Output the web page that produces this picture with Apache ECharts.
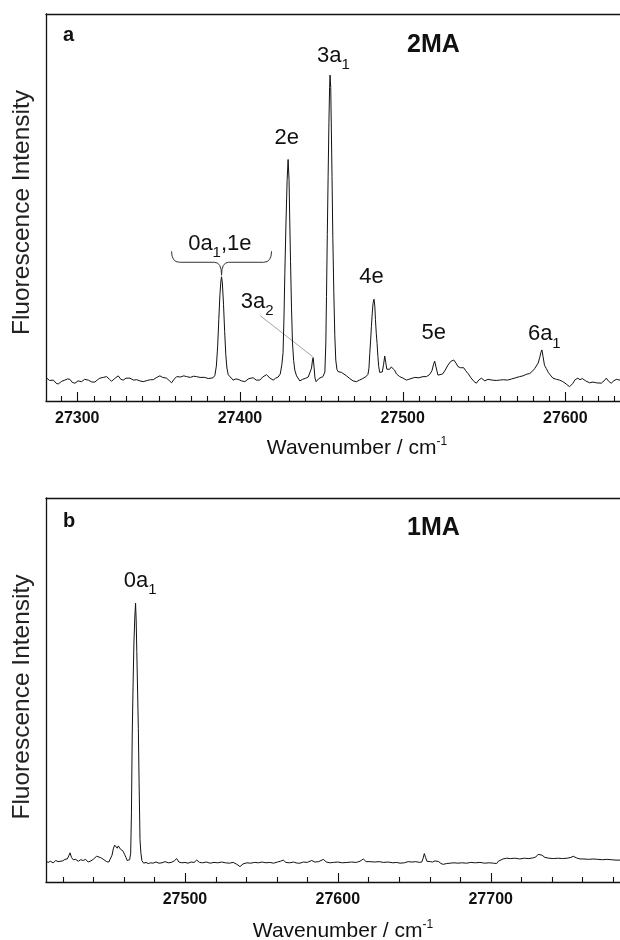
<!DOCTYPE html>
<html>
<head>
<meta charset="utf-8">
<script src="https://cdn.jsdelivr.net/npm/echarts@6/dist/echarts.min.js"></script>
<style>html,body{margin:0;padding:0;background:#fff}#c{width:620px;height:940px}</style>
</head>
<body>
<div id="c"></div>
<script>
// ---------- DATA ----------
// Panel a (2MA): [wavenumber cm-1, fluorescence intensity (arb.)]
const spectrumA = [
[27280.8,6.1],[27281.2,5.9],[27283.0,5.3],[27285.3,5.4],[27287.0,4.6],[27288.3,4.4],[27290.5,5.1],[27292.4,5.4],[27294.0,5.7],[27295.5,5.6],[27297.0,4.8],[27298.6,4.6],[27300.5,5.2],[27302.7,5.0],[27304.5,5.6],[27306.8,5.4],[27309.0,4.9],[27310.9,4.9],[27312.5,5.5],[27313.9,5.9],[27316.0,6.1],[27318.1,6.3],[27319.8,5.6],[27321.1,5.1],[27323.0,5.8],[27325.2,6.5],[27326.8,5.6],[27328.3,5.4],[27330.0,5.9],[27332.4,5.9],[27334.5,5.4],[27336.5,5.5],[27338.5,5.2],[27340.5,5.0],[27343.0,5.3],[27345.0,5.5],[27346.7,5.5],[27348.5,6.0],[27350.8,6.5],[27352.5,6.1],[27354.9,5.9],[27356.5,5.3],[27358.0,4.7],[27359.5,5.6],[27361.1,6.3],[27363.5,6.2],[27365.5,6.5],[27367.2,6.3],[27369.5,6.1],[27371.5,6.4],[27373.3,6.3],[27375.5,6.1],[27378.4,6.1],[27380.5,5.8],[27382.2,5.9],
[27383.5,6.0],[27384.6,6.6],[27385.5,9.0],[27386.3,14.0],[27387.0,21.0],[27387.7,27.5],[27388.3,31.0],[27388.7,32.1],[27389.2,30.5],[27389.9,25.0],[27390.6,18.0],[27391.3,12.0],[27392.0,8.5],[27392.8,6.8],[27393.8,6.8],[27395.8,5.4],[27397.5,5.7],[27398.9,5.6],[27401.0,5.2],[27403.0,5.0],[27405.5,5.8],[27408.1,6.0],[27410.0,5.4],[27412.2,5.4],[27414.0,6.2],[27416.3,6.8],[27418.5,5.9],[27420.4,5.4],[27422.0,5.9],[27423.5,6.2],
[27424.8,7.0],[27425.8,9.5],[27426.5,12.5],[27427.1,22],[27427.6,33],[27428.3,46],[27429.0,57],[27429.6,62.4],[27430.2,57],[27430.6,47],[27431.1,36],[27431.7,24],[27432.3,15],[27433.0,10.5],[27433.7,8.0],[27434.8,6.5],[27435.7,6.0],[27436.8,5.2],
[27438.5,5.6],[27440.5,5.9],[27442.0,6.2],[27443.2,6.6],[27444.0,8.5],[27444.6,10.6],[27445.0,11.2],[27445.5,9.0],[27446.1,6.0],[27446.8,5.0],[27447.5,5.3],[27448.5,5.8],
[27449.5,5.8],[27451.0,6.3],[27452.2,7.5],[27452.8,15],[27453.2,27],[27453.7,43],[27454.2,58],[27454.7,72],[27455.1,81],[27455.4,84.2],[27455.8,81],[27456.2,70],[27456.6,58],[27457.1,42],[27457.7,28],[27458.3,17],[27458.9,10.6],[27459.6,8.2],[27460.3,7.6],[27461.5,7.4],[27462.4,7.4],[27463.4,7.1],[27465.5,6.5],[27467.5,5.8],[27469.5,5.2],[27471.6,5.0],[27473.5,5.4],[27475.5,5.8],[27477.5,6.3],
[27478.7,6.9],[27479.3,8.5],[27479.8,12.3],[27480.3,15.5],[27480.8,19.2],[27481.3,22.5],[27481.8,25.2],[27482.4,26.3],[27482.9,24.5],[27483.3,21],[27483.8,17.5],[27484.3,14.9],[27484.8,11.5],[27485.3,8.9],[27485.9,7.4],[27486.6,7.0],[27487.5,7.5],[27488.3,9.5],[27489.0,11.6],[27489.6,10],[27490.3,8.2],[27491.0,8.0],[27492.0,8.2],[27493.0,8.8],[27494.1,9.0],[27495.0,8.0],[27496.2,7.0],[27498.2,6.3],[27500.3,5.9],[27502.3,5.4],[27504.5,5.7],[27507.4,6.1],[27510.0,6.0],[27512.5,6.3],[27514.6,6.3],[27516.5,6.8],[27518.0,7.8],[27519.0,9.5],[27519.7,10.3],[27520.5,8.8],[27521.7,6.7],[27523.0,6.8],[27524.6,7.0],[27526.2,8.0],[27527.9,9.3],[27529.5,10.2],[27531.4,10.6],[27532.8,9.8],[27534.0,8.9],[27535.5,8.6],[27536.5,9.0],[27537.5,8.6],[27538.8,7.8],[27540.2,7.1],[27542.0,6.0],[27543.5,5.2],[27545.3,4.6],[27546.8,5.4],[27548.4,5.9],[27550.5,5.2],[27552.5,5.6],[27555.0,5.4],[27557.5,5.3],[27559.6,5.4],[27562.0,5.5],[27564.5,5.4],[27567.0,5.7],[27569.5,6.0],[27571.9,6.3],[27574.0,6.5],[27576.0,6.9],[27578.1,7.1],[27580.0,7.8],[27581.2,8.4],[27582.2,8.9],[27583.3,9.8],[27584.3,11.3],[27585.0,12.6],[27585.6,13.2],[27586.3,11.5],[27587.2,9.2],[27588.3,8.4],[27589.5,7.4],[27590.8,6.7],[27592.4,5.9],[27594.5,5.6],[27596.5,5.4],[27598.5,5.0],[27600.5,4.4],[27602.6,3.7],[27604.5,4.5],[27606.0,5.5],[27607.7,5.9],[27609.0,5.5],[27610.5,5.8],[27612.5,5.2],[27614.9,4.7],[27617.0,4.9],[27619.0,4.7],[27622.1,4.6],[27623.8,5.2],[27625.2,5.9],[27626.6,5.1],[27628.2,4.6],[27629.8,5.2],[27631.3,5.6],[27633.6,5.4]
];
// Panel b (1MA)
const spectrumB = [
[27409.1,5.4],[27410.5,5.1],[27412.0,5.4],[27413.8,5.0],[27415.5,5.6],[27417.0,5.3],[27418.2,5.6],[27420.0,5.5],[27421.5,5.9],[27423.0,6.0],[27424.0,6.8],[27424.8,7.6],[27425.8,6.4],[27426.9,5.8],[27428.5,5.9],[27430.2,5.4],[27431.8,5.8],[27433.5,5.6],[27435.0,5.9],[27436.7,5.2],[27438.5,5.5],[27440.0,5.9],[27441.2,6.3],[27442.2,6.7],[27443.8,6.5],[27445.5,6.2],[27447.0,5.8],[27448.8,5.3],[27450.2,5.2],[27451.4,5.5],[27452.3,7.0],[27453.1,8.6],[27454.0,9.6],[27454.8,9.2],[27455.7,8.8],[27456.4,9.4],[27457.0,9.5],[27457.7,8.6],[27458.3,8.3],[27459.0,8.5],[27459.6,8.0],[27460.5,7.2],[27461.4,6.4],[27462.2,5.6],[27462.9,5.3],[27463.8,5.8],
[27464.5,7.5],[27465.0,18],[27465.5,38],[27466.1,52],[27466.6,62],[27467.2,69],[27467.7,72.6],[27468.1,68],[27468.5,60],[27469.0,50],[27469.5,40],[27470.0,26],[27470.6,11],[27471.2,7.5],[27471.8,5.6],[27473.0,4.9],
[27474.5,5.1],[27476.0,4.8],[27477.5,5.0],[27479.0,4.9],[27481.0,5.2],[27483.0,4.9],[27485.0,5.0],[27487.0,5.3],[27489.0,5.0],[27491.0,5.1],[27493.0,5.5],[27494.6,6.1],[27496.0,5.2],[27498.0,5.0],[27500.0,5.1],[27502.0,4.9],[27504.0,5.2],[27506.0,5.1],[27507.7,5.7],[27509.5,5.1],[27511.5,5.0],[27514.0,5.2],[27516.5,4.9],[27519.0,5.1],[27521.5,5.0],[27524.0,5.2],[27526.5,5.0],[27529.0,4.9],[27531.5,5.1],[27534.0,4.6],[27536.0,4.0],[27538.0,4.7],[27540.5,5.0],[27543.0,4.9],[27545.5,5.1],[27548.0,5.0],[27550.5,5.2],[27553.0,5.0],[27555.5,5.1],[27558.0,4.9],[27560.5,5.2],[27562.5,5.4],[27564.3,5.7],[27566.0,5.1],[27568.5,5.0],[27571.0,5.2],[27573.5,4.9],[27575.2,4.9],[27577.5,5.2],[27580.0,5.1],[27582.9,5.6],[27585.0,5.2],[27587.5,5.3],[27590.5,5.9],[27592.5,5.2],[27595.0,5.0],[27597.0,5.1],[27600.0,5.2],[27603.0,5.0],[27606.0,5.1],[27609.0,5.2],[27612.0,5.1],[27614.5,5.4],[27616.7,6.0],[27618.5,5.3],[27621.0,5.3],[27624.0,5.2],[27627.0,5.3],[27630.0,5.1],[27633.0,5.2],[27636.0,5.0],[27638.5,5.1],[27640.7,4.9],[27643.5,5.0],[27646.0,5.3],[27648.5,5.2],[27651.0,5.3],[27653.5,5.1],[27654.9,5.2],[27655.8,6.2],[27656.6,7.4],[27657.4,6.4],[27658.3,5.4],[27659.2,5.6],[27660.5,5.3],[27662.0,5.2],[27663.5,5.5],[27664.7,5.8],[27666.0,5.3],[27667.5,4.8],[27669.0,4.6],[27671.0,4.8],[27673.5,4.9],[27676.0,5.0],[27678.5,4.9],[27681.0,5.0],[27684.3,4.9],[27687.0,5.1],[27690.0,5.0],[27693.0,5.1],[27696.0,4.9],[27699.0,5.0],[27702.0,4.9],[27703.9,4.8],[27705.0,5.4],[27706.1,5.9],[27708.0,6.0],[27710.5,6.2],[27713.0,6.1],[27716.0,6.2],[27719.0,6.0],[27722.0,6.2],[27725.0,6.1],[27727.9,6.3],[27729.5,6.5],[27731.0,7.2],[27732.3,7.6],[27733.5,7.0],[27735.5,6.4],[27738.0,6.2],[27741.0,6.1],[27744.0,6.2],[27747.0,6.1],[27750.0,6.2],[27752.5,6.4],[27754.0,6.7],[27756.0,6.3],[27758.4,6.0],[27761.0,6.0],[27764.0,5.9],[27767.0,6.0],[27770.0,5.9],[27773.0,5.8],[27776.0,5.9],[27779.0,5.8],[27782.0,5.7],[27784.6,5.7]
];
// Peak assignments (underscore = subscript)
const peakLabelsA = ['0a_1,1e', '2e', '3a_1', '4e', '5e', '6a_1', '3a_2'];
const peakWnA     = [27388.7, 27429.6, 27455.4, 27482.4, 27519.7, 27585.6, 27445.0];
const peakHtA     = [32.1, 62.4, 84.2, 26.3, 10.3, 13.2, 11.2];
const peakLabelsB = ['0a_1'];
const peakWnB     = [27467.7];
const peakHtB     = [72.6];
// Axis ranges and ticks
const xRangeA = [27280.8, 27633.6];
const xRangeB = [27409.1, 27784.6];
const majorTicksA = [27300, 27400, 27500, 27600];
const minorTicksA = [27290,27310,27320,27330,27340,27350,27360,27370,27380,27390,27410,27420,27430,27440,27450,27460,27470,27480,27490,27510,27520,27530,27540,27550,27560,27570,27580,27590,27610,27620,27630];
const majorTicksB = [27500, 27600, 27700];
const minorTicksB = [27420,27440,27460,27480,27520,27540,27560,27580,27620,27640,27660,27680,27720,27740,27760,27780];
const panelTitles = ['2MA', '1MA'];
const panelLetters = ['a', 'b'];
const xTitle = 'Wavenumber / cm';
const xTitleSup = '-1';
const yTitle = 'Fluorescence Intensity';

// ---------- STYLE / LAYOUT ----------
const FONT = '"Liberation Sans", Arial, Helvetica, sans-serif';
const INK = '#111';
const grids = [
  {left: 46, top: 14, width: 574, height: 387, containLabel: false, outerBoundsMode: 'none'},
  {left: 46, top: 498, width: 574, height: 384, containLabel: false, outerBoundsMode: 'none'}
];
const labelOffsetsA = [[-1.7,-31],[-1.3,-20],[3.3,-17.5],[-2.5,-20],[-1,-26],[2.4,-13.5],[-56,-54]];
const labelOffsetsB = [[4.6,-20.5]];

function toRich(s) {
  return s.split(/_(\d)/).map((p, i) => i % 2 ? '{s|' + p + '}' : (p ? '{t|' + p + '}' : '')).join('');
}
const richStyles = {
  t: {fontSize: 22, lineHeight: 26, verticalAlign: 'top', color: INK, fontFamily: FONT},
  s: {fontSize: 15, lineHeight: 15, padding: [13, 0, 0, 0], verticalAlign: 'top', color: INK, fontFamily: FONT}
};

function xAxesFor(gi, range, major, nameGap, namePad) {
  return [
    { gridIndex: gi, type: 'value', position: 'bottom', min: range[0], max: range[1],
      axisLine: {show: true, onZero: false, lineStyle: {color: INK, width: 1.3}},
      axisTick: {show: false},
      axisLabel: {show: true, customValues: major, margin: 10, color: INK, fontSize: 16, fontWeight: 'bold', fontFamily: FONT,
        formatter: v => String(Math.round(v))},
      splitLine: {show: false},
      name: xTitle + '{sup|' + xTitleSup + '}', nameLocation: 'middle', nameGap: nameGap,
      nameTextStyle: {color: INK, fontSize: 21, fontFamily: FONT, lineHeight: 24, padding: [0, 0, 0, namePad],
        rich: {sup: {fontSize: 12, lineHeight: 12, verticalAlign: 'top', color: INK, fontFamily: FONT}}}
    },
    { gridIndex: gi, type: 'value', position: 'top', min: range[0], max: range[1],
      axisLine: {show: true, onZero: false, lineStyle: {color: INK, width: 1.3}},
      axisTick: {show: false}, axisLabel: {show: false}, splitLine: {show: false}
    }
  ];
}
function yAxisFor(gi, pad) {
  return { gridIndex: gi, type: 'value', min: 0, max: 100, position: 'left',
    axisLine: {show: true, onZero: false, lineStyle: {color: INK, width: 1.3}},
    axisTick: {show: false}, axisLabel: {show: false}, splitLine: {show: false},
    name: yTitle, nameLocation: 'middle', nameGap: 11, nameRotate: 90,
    nameTextStyle: {color: '#222', fontSize: 24.5, fontFamily: FONT, padding: [0, pad, 0, 0]}
  };
}
function peakMarks(labels, wn, ht, offsets) {
  return {
    symbol: 'circle', symbolSize: 0, silent: true, animation: false,
    label: {show: true, position: 'inside', color: INK, rich: richStyles},
    data: labels.map((l, i) => ({
      name: l, coord: [wn[i], ht[i]],
      label: {offset: offsets[i], formatter: toRich(l)}
    }))
  };
}

const option = {
  animation: false,
  backgroundColor: '#fff',
  grid: grids,
  xAxis: [].concat(xAxesFor(0, xRangeA, majorTicksA, 35, 48), xAxesFor(1, xRangeB, majorTicksB, 37, 20)),
  yAxis: [yAxisFor(0, 10), yAxisFor(1, 14)],
  series: [
    { type: 'line', xAxisIndex: 0, yAxisIndex: 0, data: spectrumA, showSymbol: false, symbol: 'none',
      lineStyle: {color: INK, width: 1}, itemStyle: {color: INK}, silent: true,
      markPoint: peakMarks(peakLabelsA, peakWnA, peakHtA, labelOffsetsA) },
    { type: 'line', xAxisIndex: 2, yAxisIndex: 1, data: spectrumB, showSymbol: false, symbol: 'none',
      lineStyle: {color: INK, width: 1}, itemStyle: {color: INK}, silent: true,
      markPoint: peakMarks(peakLabelsB, peakWnB, peakHtB, labelOffsetsB) }
  ]
};

const chart = echarts.init(document.getElementById('c'), null, {renderer: 'canvas', width: 620, height: 940});
chart.setOption(option);

// inward ticks placed through the axis scales
const tickStyle = {stroke: INK, lineWidth: 1.1};
function tickLines(xAxisIndex, yAxisIndex, values, len) {
  const yb = chart.convertToPixel({yAxisIndex: yAxisIndex}, 0);
  return values.map(v => {
    const x = Math.round(chart.convertToPixel({xAxisIndex: xAxisIndex}, v)) + 0.5;
    return {type: 'line', silent: true, shape: {x1: x, y1: yb, x2: x, y2: yb - len}, style: tickStyle};
  });
}
const ticks = [].concat(
  tickLines(0, 0, majorTicksA, 9), tickLines(0, 0, minorTicksA, 5),
  tickLines(2, 1, majorTicksB, 9), tickLines(2, 1, minorTicksB, 5)
);

// annotations anchored on data coordinates
const tip = chart.convertToPixel({seriesIndex: 0}, [peakWnA[0], peakHtA[0]]);
const a2 = chart.convertToPixel({seriesIndex: 0}, [peakWnA[6], peakHtA[6]]);
const braceStyle = {stroke: '#333', lineWidth: 1, fill: null};
chart.setOption({
  graphic: ticks.concat([
    {type: 'group', x: tip[0], y: tip[1] - 1.5, silent: true, children: [
      {type: 'bezierCurve', shape: {x1: -50, y1: -24, cpx1: -50, cpy1: -13, x2: -42, y2: -13}, style: braceStyle},
      {type: 'line', shape: {x1: -42, y1: -13, x2: -7, y2: -13}, style: braceStyle},
      {type: 'bezierCurve', shape: {x1: -7, y1: -13, cpx1: 0, cpy1: -13, x2: 0, y2: 0}, style: braceStyle},
      {type: 'bezierCurve', shape: {x1: 0, y1: 0, cpx1: 0, cpy1: -13, x2: 7, y2: -13}, style: braceStyle},
      {type: 'line', shape: {x1: 7, y1: -13, x2: 42, y2: -13}, style: braceStyle},
      {type: 'bezierCurve', shape: {x1: 42, y1: -13, cpx1: 50, cpy1: -13, x2: 50, y2: -24}, style: braceStyle}
    ]},
    {type: 'line', silent: true, shape: {x1: a2[0] - 53, y1: a2[1] - 42, x2: a2[0] - 0.5, y2: a2[1] - 1},
      style: {stroke: '#8a8a8a', lineWidth: 0.8}},
    {type: 'text', silent: true, style: {text: panelLetters[0], x: 63, y: 35, font: 'bold 20px ' + FONT, fill: INK, textAlign: 'left', textVerticalAlign: 'middle'}},
    {type: 'text', silent: true, style: {text: panelLetters[1], x: 63, y: 521, font: 'bold 20px ' + FONT, fill: INK, textAlign: 'left', textVerticalAlign: 'middle'}},
    {type: 'text', silent: true, style: {text: panelTitles[0], x: 433.5, y: 45, font: 'bold 25px ' + FONT, fill: INK, textAlign: 'center', textVerticalAlign: 'middle'}},
    {type: 'text', silent: true, style: {text: panelTitles[1], x: 433.5, y: 528, font: 'bold 25px ' + FONT, fill: INK, textAlign: 'center', textVerticalAlign: 'middle'}}
  ])
});
</script>
</body>
</html>
